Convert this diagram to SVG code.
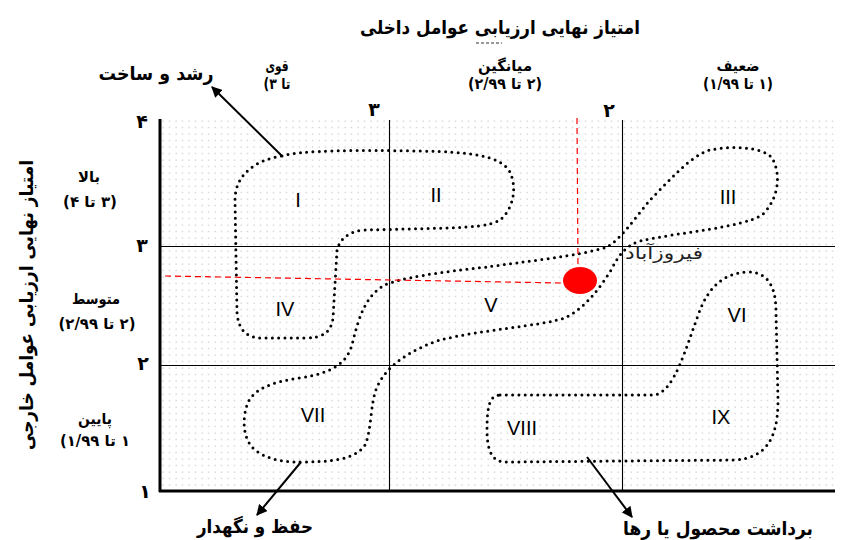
<svg xmlns="http://www.w3.org/2000/svg" width="845" height="540" viewBox="0 0 845 540">
<defs>
<pattern id="dots" x="160" y="118" width="6.5" height="6.5" patternUnits="userSpaceOnUse">
<rect x="2.5" y="2.5" width="1.2" height="1.2" fill="#c4c4c4"/>
</pattern>
<marker id="arr" viewBox="0 0 10 10" refX="9" refY="5" markerWidth="11" markerHeight="11" markerUnits="userSpaceOnUse" orient="auto">
<path d="M0,0 L10,5 L0,10 Z" fill="#000"/>
</marker>
</defs>
<style>
.fa{font-family:"DejaVu Sans","Noto Sans",sans-serif;font-weight:bold;fill:#000;direction:rtl;text-anchor:middle}
.t{font-size:19px}
.h{font-size:15px}
.n{font-size:19px}
.rn{font-family:"Liberation Sans",Arial,sans-serif;font-size:20px;fill:#000;text-anchor:middle}
.grid{stroke:#000;stroke-width:1.1;fill:none}
.ax{stroke:#000;stroke-width:3;fill:none}
.zone{fill:none;stroke:#000;stroke-width:3;stroke-dasharray:0 6.3;stroke-linecap:round}
.red{stroke:#f00;stroke-width:1.2;stroke-dasharray:6 4;fill:none}
.ar{stroke:#000;stroke-width:2;fill:none;marker-end:url(#arr)}
</style>
<rect width="845" height="540" fill="#fff"/>
<g id="chart">
<rect x="160" y="118" width="678" height="373" fill="url(#dots)"/>
<line class="grid" x1="389.5" y1="120" x2="389.5" y2="491"/>
<line class="grid" x1="622.5" y1="120" x2="622.5" y2="491"/>
<line class="grid" x1="160" y1="246.5" x2="835" y2="246.5"/>
<line class="grid" x1="160" y1="365.5" x2="835" y2="365.5"/>
<line class="ax" x1="160" y1="119" x2="160" y2="492"/>
<line class="ax" x1="159" y1="491" x2="835" y2="491"/>
</g>
<g id="titles">
<text class="fa t" x="500" y="34" textLength="280" lengthAdjust="spacingAndGlyphs">امتیاز نهایی ارزیابی عوامل داخلی</text>
<line x1="476" y1="43" x2="502" y2="43" stroke="#333" stroke-width="1" stroke-dasharray="3 2"/>
<text class="fa t" transform="translate(33,305) rotate(-90)" textLength="290" lengthAdjust="spacingAndGlyphs">امتیاز نهایی ارزیابی عوامل خارجی</text>
</g>
<g id="col-labels">
<text class="fa h" x="277" y="71" textLength="23" lengthAdjust="spacingAndGlyphs">قوی</text>
<text class="fa h" x="277" y="89" style="direction:ltr" textLength="27" lengthAdjust="spacingAndGlyphs">(۳ تا</text>
<text class="fa h" x="505" y="71" textLength="54" lengthAdjust="spacingAndGlyphs">میانگین</text>
<text class="fa h" x="505" y="89" textLength="74" lengthAdjust="spacingAndGlyphs">(۲ تا ۲/۹۹)</text>
<text class="fa h" x="738" y="71" textLength="43" lengthAdjust="spacingAndGlyphs">ضعیف</text>
<text class="fa h" x="738" y="89" textLength="70" lengthAdjust="spacingAndGlyphs">(۱ تا ۱/۹۹)</text>
</g>
<g id="row-labels">
<text class="fa h" x="89" y="182" textLength="22" lengthAdjust="spacingAndGlyphs">بالا</text>
<text class="fa h" x="90" y="207" textLength="54" lengthAdjust="spacingAndGlyphs">(۳ تا ۴)</text>
<text class="fa h" x="96" y="304" textLength="48" lengthAdjust="spacingAndGlyphs">متوسط</text>
<text class="fa h" x="97" y="329" textLength="77" lengthAdjust="spacingAndGlyphs">(۲ تا ۲/۹۹)</text>
<text class="fa h" x="95" y="424" textLength="34" lengthAdjust="spacingAndGlyphs">پایین</text>
<text class="fa h" x="95" y="446" textLength="70" lengthAdjust="spacingAndGlyphs">۱ تا ۱/۹۹)</text>
</g>
<g id="ticks">
<text class="fa n" x="142" y="128">۴</text>
<text class="fa n" x="374" y="116">۳</text>
<text class="fa n" x="609" y="117">۲</text>
<text class="fa n" x="142" y="252">۳</text>
<text class="fa n" x="143" y="370">۲</text>
<text class="fa n" x="145" y="498">۱</text>
</g>
<g id="cells">
<text class="rn" x="298" y="207">I</text>
<text class="rn" x="436" y="202">II</text>
<text class="rn" x="728" y="204">III</text>
<text class="rn" x="285" y="316">IV</text>
<text class="rn" x="491" y="312">V</text>
<text class="rn" x="737" y="322">VI</text>
<text class="rn" x="313" y="422">VII</text>
<text class="rn" x="522" y="435">VIII</text>
<text class="rn" x="721" y="424">IX</text>
</g>
<g id="zone-growth">
<path class="zone" d="M282,156 C300,150 360,150 420,151 C470,152 500,155 510,172 C518,190 512,210 500,220 C490,226 470,227 450,228 L365,230 C350,231 340,238 337,250 L333,318 C331,333 322,338 305,338 L262,338 C245,338 238,328 237,312 L235,200 C235,175 255,160 282,156 Z"/>
</g>
<g id="zone-hold">
<path class="zone" d="M300,462 C330,462 355,460 365,445 C372,430 370,400 378,385 C388,365 410,350 440,340 C480,330 540,326 565,318 C585,308 598,290 610,272 C618,256 625,246 640,241 C680,232 740,228 762,215 C778,200 782,175 772,158 C762,146 730,146 710,150 C690,156 670,180 650,200 C635,218 620,240 607,247 C580,256 520,262 487,267 C440,272 400,278 385,285 C365,295 358,320 352,345 C346,365 330,373 300,378 C270,382 252,390 247,405 C242,420 243,440 255,450 C268,460 285,462 300,462 Z"/>
</g>
<g id="zone-harvest">
<path class="zone" d="M500,395 L655,395 C675,390 685,350 700,310 C710,285 725,273 748,272 C770,272 776,290 776,312 L778,400 C778,440 765,458 735,460 L505,462 C492,462 487,450 487,430 C487,405 490,395 500,395 Z"/>
</g>
<g id="firouzabad">
<line class="red" x1="577" y1="118" x2="578" y2="266"/>
<line class="red" x1="165" y1="276" x2="562" y2="283"/>
<ellipse cx="580" cy="280.5" rx="17" ry="13.5" fill="#f00"/>
<text x="664" y="259" font-family="DejaVu Sans,sans-serif" font-size="17" fill="#222" text-anchor="middle" direction="rtl" textLength="78" lengthAdjust="spacingAndGlyphs">فیروزآباد</text>
</g>
<g id="connectors">
<line class="ar" x1="282" y1="156" x2="212" y2="87"/>
<line class="ar" x1="301" y1="462" x2="257" y2="515"/>
<line class="ar" x1="587" y1="457" x2="632" y2="517"/>
</g>
<g id="strategies">
<text class="fa t" x="156" y="80" textLength="115" lengthAdjust="spacingAndGlyphs">رشد و ساخت</text>
<text class="fa t" x="255" y="533" textLength="116" lengthAdjust="spacingAndGlyphs">حفظ و نگهدار</text>
<text class="fa t" x="718" y="535" textLength="190" lengthAdjust="spacingAndGlyphs">برداشت محصول یا رها</text>
</g>
</svg>
